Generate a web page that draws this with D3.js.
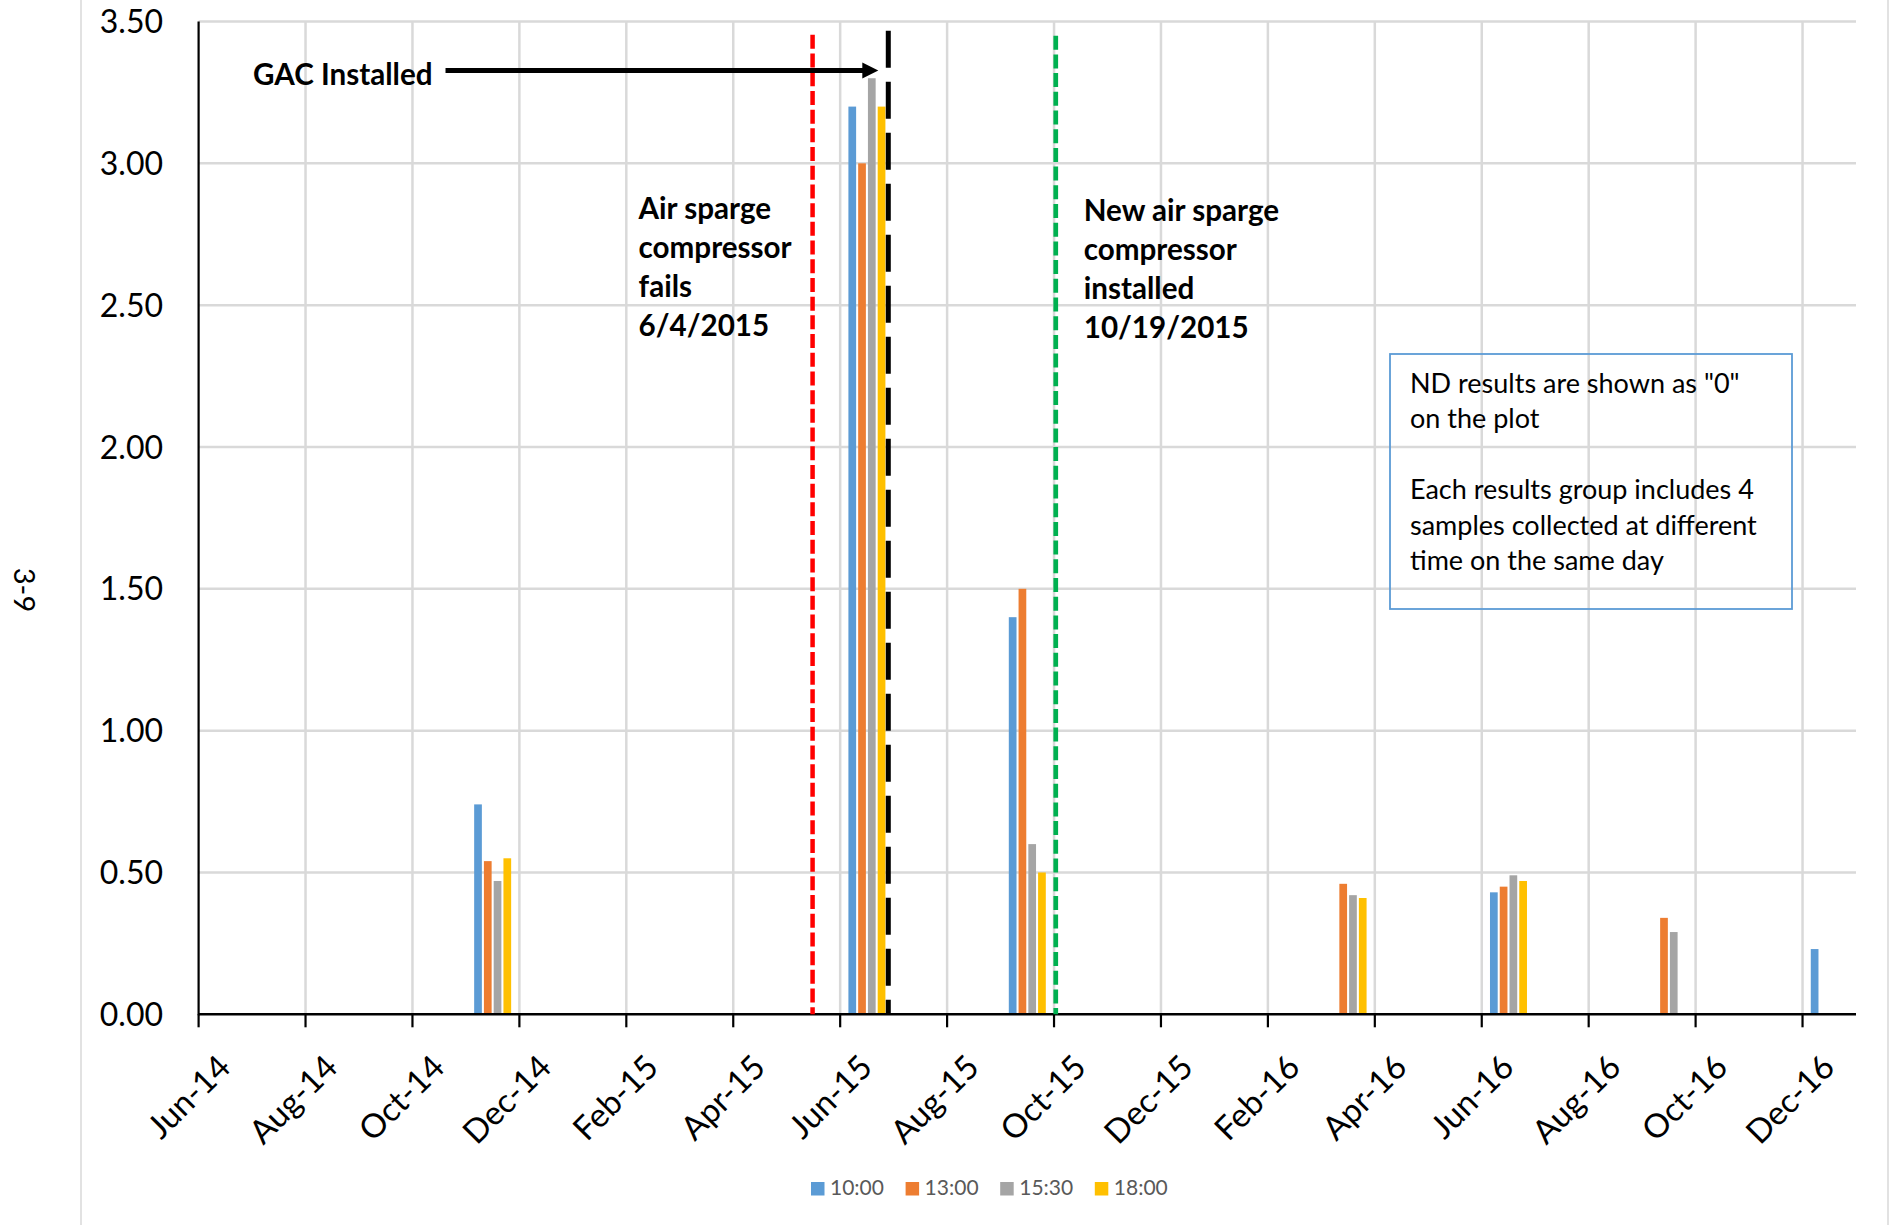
<!DOCTYPE html>
<html>
<head>
<meta charset="utf-8">
<script src="https://cdn.jsdelivr.net/npm/d3@7"></script>
<style>
  body { margin: 0; background: #fff; }
  svg { display: block; }
  text { font-family: Lato, "Open Sans", sans-serif; }
</style>
</head>
<body>
<svg id="chart" width="1890" height="1225"></svg>
<script>
// ---- data ----
const seriesNames = ["10:00", "13:00", "15:30", "18:00"];
const sampleMonths = ["Nov-14", "Jun-15", "Sep-15", "Mar-16", "Jun-16", "Sep-16", "Dec-16"];
// ND results are plotted as 0
const vals1000 = [0.74, 3.20, 1.40, 0.00, 0.43, 0.00, 0.23];
const vals1300 = [0.54, 3.00, 1.50, 0.46, 0.45, 0.34, 0.00];
const vals1530 = [0.47, 3.30, 0.60, 0.42, 0.49, 0.29, 0.00];
const vals1800 = [0.55, 3.20, 0.50, 0.41, 0.47, 0.00, 0.00];
const tickLabels = ["Jun-14", "Aug-14", "Oct-14", "Dec-14", "Feb-15", "Apr-15", "Jun-15", "Aug-15",
                    "Oct-15", "Dec-15", "Feb-16", "Apr-16", "Jun-16", "Aug-16", "Oct-16", "Dec-16"];
const yTicks = [0, 0.5, 1.0, 1.5, 2.0, 2.5, 3.0, 3.5];
// event markers drawn across the plot
const eventDates = ["2015-05-16", "2015-06-28", "2015-10-02"];
const eventNotes = [
  ["Air sparge", "compressor", "fails", "6/4/2015"],
  ["GAC Installed"],
  ["New air sparge", "compressor", "installed", "10/19/2015"]
];
const noteLines = ["ND results are shown as \"0\"", "on the plot", "",
                   "Each results group includes 4", "samples collected at different",
                   "time on the same day"];

// ---- layout ----
const colors = ["#5B9BD5", "#ED7D31", "#A5A5A5", "#FFC000"];
const plot = { left: 198.6, right: 1856, top: 21.5, bottom: 1014.3 };
const gridColor = "#D9D9D9";

const svg = d3.select("#chart");

const monthStart = new Date(2014, 5, 1);
const monthEnd = new Date(2017, 0, 1);
const months = d3.timeMonth.range(monthStart, monthEnd).map(d3.timeFormat("%b-%y"));

// one equal slot per month
const xm = d3.scaleLinear().domain([0, months.length]).range([plot.left, plot.right]);
const x0 = d3.scaleBand().domain(months).range([plot.left, plot.right])
  .paddingInner(0.308).paddingOuter(0.154);
const x1 = d3.scaleBand().domain(seriesNames).range([0, x0.bandwidth()]).paddingInner(0.21);
const y = d3.scaleLinear().domain([0, 3.5]).range([plot.bottom, plot.top]);

const dateToMonthPos = s => {
  const d = d3.timeParse("%Y-%m-%d")(s);
  const m0 = d3.timeMonth.floor(d);
  const days = d3.timeDay.count(m0, d3.timeMonth.offset(m0, 1));
  return d3.timeMonth.count(monthStart, m0) + (d.getDate() - 1) / days;
};

// page edges
svg.append("g").selectAll("line").data([81, 1888]).join("line")
  .attr("x1", d => d).attr("x2", d => d).attr("y1", 0).attr("y2", 1225)
  .attr("stroke", "#D9D9D9").attr("stroke-width", 1.5);

// page number
svg.append("text").attr("transform", "translate(14,590) rotate(90)")
  .attr("text-anchor", "middle").attr("font-size", 29).text("3-9");

// gridlines
svg.append("g").selectAll("line").data(yTicks.slice(1)).join("line")
  .attr("x1", plot.left).attr("x2", plot.right)
  .attr("y1", d => y(d)).attr("y2", d => y(d))
  .attr("stroke", gridColor).attr("stroke-width", 2.5);
svg.append("g").selectAll("line").data(tickLabels.slice(1)).join("line")
  .attr("x1", d => xm(months.indexOf(d))).attr("x2", d => xm(months.indexOf(d)))
  .attr("y1", plot.top).attr("y2", plot.bottom)
  .attr("stroke", gridColor).attr("stroke-width", 2.5);

// y axis labels
svg.append("g").selectAll("text").data(yTicks).join("text")
  .attr("x", 163).attr("y", d => y(d)).attr("dy", "0.36em")
  .attr("text-anchor", "end").attr("font-size", 32).attr("fill", "#000")
  .text(d3.format(".2f"));

// bars
const series = [vals1000, vals1300, vals1530, vals1800];
const gBars = svg.append("g");
series.forEach((vals, si) => {
  gBars.append("g").attr("fill", colors[si]).selectAll("rect")
    .data(vals.map((v, i) => ({ m: sampleMonths[i], v })))
    .join("rect")
    .attr("x", d => x0(d.m) + x1(seriesNames[si]))
    .attr("y", d => y(d.v))
    .attr("width", x1.bandwidth())
    .attr("height", d => y(0) - y(d.v));
});

// axes lines
svg.append("line").attr("x1", plot.left).attr("x2", plot.left)
  .attr("y1", plot.top).attr("y2", plot.bottom + 1)
  .attr("stroke", "#000").attr("stroke-width", 2.2);
svg.append("line").attr("x1", plot.left).attr("x2", plot.right)
  .attr("y1", plot.bottom).attr("y2", plot.bottom)
  .attr("stroke", "#000").attr("stroke-width", 2.4);

// x ticks and rotated labels
const gx = svg.append("g");
gx.selectAll("line").data(tickLabels).join("line")
  .attr("x1", d => xm(months.indexOf(d))).attr("x2", d => xm(months.indexOf(d)))
  .attr("y1", plot.bottom).attr("y2", plot.bottom + 13)
  .attr("stroke", "#000").attr("stroke-width", 2.2);
gx.selectAll("text").data(tickLabels).join("text")
  .attr("transform", d => `translate(${xm(months.indexOf(d)) + 34},${plot.bottom + 55}) rotate(-45)`)
  .attr("text-anchor", "end").attr("font-size", 33).attr("fill", "#000")
  .text(d => d);

// event markers
const markerStyle = [
  { color: "#FF0000", width: 4.5, dash: "14 4.7", top: 3.453 },
  { color: "#000000", width: 5, dash: "37 14", top: 3.467 },
  { color: "#00B050", width: 4.7, dash: "14 4.7", top: 3.45 }
];
const gEv = svg.append("g");
eventDates.forEach((d, i) => {
  const xe = xm(dateToMonthPos(d));
  gEv.append("line").attr("x1", xe).attr("x2", xe)
    .attr("y1", y(markerStyle[i].top)).attr("y2", plot.bottom)
    .attr("stroke", markerStyle[i].color).attr("stroke-width", markerStyle[i].width)
    .attr("stroke-dasharray", markerStyle[i].dash);
});

// annotations
const noteFont = 29.6;
const failX = xm(dateToMonthPos(eventDates[0]));
const gacX = xm(dateToMonthPos(eventDates[1]));
const newX = xm(dateToMonthPos(eventDates[2]));

const failText = svg.append("text").attr("font-size", noteFont).attr("font-weight", 700);
failText.selectAll("tspan").data(eventNotes[0]).join("tspan")
  .attr("x", failX - 174).attr("y", (d, i) => 219 + i * 39).text(d => d);

const newText = svg.append("text").attr("font-size", noteFont).attr("font-weight", 700);
newText.selectAll("tspan").data(eventNotes[2]).join("tspan")
  .attr("x", newX + 28).attr("y", (d, i) => 220.5 + i * 39).text(d => d);

const gacText = svg.append("text").attr("x", 253).attr("y", 84.5)
  .attr("font-size", noteFont).attr("font-weight", 700).text(eventNotes[1][0]);

// arrow pointing to the GAC marker
const arrowY = y(3.327);
const arrowStart = 253 + gacText.node().getComputedTextLength() + 13;
const tip = gacX - 10;
svg.append("line").attr("x1", arrowStart).attr("x2", tip - 14)
  .attr("y1", arrowY).attr("y2", arrowY)
  .attr("stroke", "#000").attr("stroke-width", 5);
svg.append("path")
  .attr("d", `M${tip},${arrowY} L${tip - 16},${arrowY - 8} L${tip - 16},${arrowY + 8} Z`)
  .attr("fill", "#000");

// note box
svg.append("rect").attr("x", 1390).attr("y", 354).attr("width", 402).attr("height", 255)
  .attr("fill", "none").attr("stroke", "#5B9BD5").attr("stroke-width", 1.8);
const box = svg.append("text").attr("font-size", 27).attr("fill", "#000");
box.selectAll("tspan").data(noteLines).join("tspan")
  .attr("x", 1410).attr("y", (d, i) => 392.7 + i * 35.5).text(d => d);

// legend
const legend = svg.append("g").attr("transform", "translate(811,1182)");
const items = legend.selectAll("g").data(seriesNames).join("g")
  .attr("transform", (d, i) => `translate(${i * 94.6},0)`);
items.append("rect").attr("width", 13.5).attr("height", 13.5).attr("fill", (d, i) => colors[i]);
items.append("text").attr("x", 19).attr("y", 13).attr("font-size", 21).attr("fill", "#595959")
  .text(d => d);
</script>
</body>
</html>
